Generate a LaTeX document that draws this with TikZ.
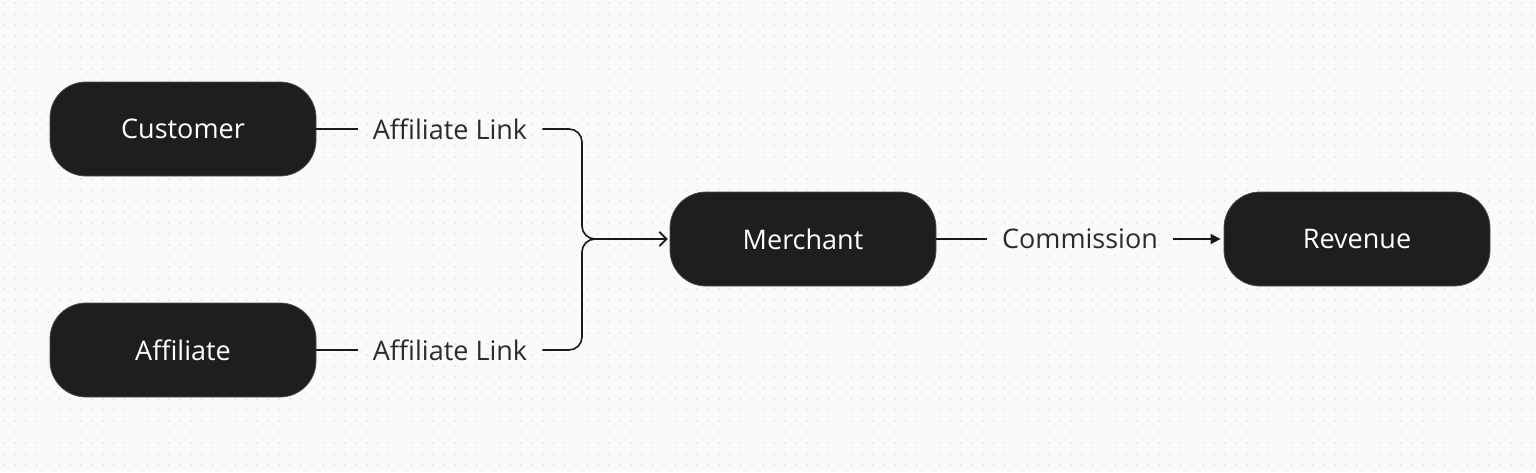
\documentclass[tikz,border=0pt]{standalone}
\usepackage{fontspec}
\setmainfont{Open Sans}
\usepackage{tikz}
\usetikzlibrary{arrows.meta,positioning}
\definecolor{boxfill}{HTML}{1E1E1E}
\definecolor{paper}{HTML}{FAFAFA}
\definecolor{dotgrey}{HTML}{D9D9D9}
\definecolor{ink}{HTML}{2B2B2B}
\tikzset{
    block/.style={
           rectangle, rounded corners=36pt,
           draw=black!70, fill=boxfill, line width=0.8pt,
           minimum height=94pt,
           minimum width=266pt,
           text=white,
           font=\fontsize{27}{32}\selectfont
           },
    tag/.style={
           inner xsep=15pt, inner ysep=4pt,
           text=ink,
           font=\fontsize{27}{32}\selectfont
           } ,
    link/.style={
           draw=black!90, line width=1.6pt
           }
}

\begin{document}
\begin{tikzpicture}[x=1pt, y=-1pt, node distance=5pt]
   \useasboundingbox[fill=paper] (0,0) rectangle (1536,472);
   % dot grid
   \foreach \i in {0,...,139}
     \foreach \j in {0,...,42}
       \fill[dotgrey] (4+11*\i, 3+11*\j) circle (0.8pt);

   \node[block] (cust)  at (183,129)  {Customer};
   \node[block] (aff)   at (183,350)  {Affiliate};
   \node[block] (merch) at (803,239)  {Merchant};
   \node[block] (rev)   at (1357,239) {Revenue};
   \node[tag]   (lnk1)  at (450,129)  {Affiliate Link};
   \node[tag]   (lnk2)  at (450,350)  {Affiliate Link};
   \node[tag]   (comm)  at (1080,239) {Commission};
   \coordinate  (jn)    at (582,239);

   \path[link]
    (cust.east) edge (lnk1.west)
    (aff.east)  edge (lnk2.west)
    (merch.east) edge (comm.west);
   \draw[link, rounded corners=13pt, -{Straight Barb[length=7pt,width=14pt,line width=1.6pt]}, shorten >=2pt]
    (lnk1.east) -| (jn) -- (merch.west);
   \draw[link, rounded corners=13pt, -{Straight Barb[length=7pt,width=14pt,line width=1.6pt]}, shorten >=2pt]
    (lnk2.east) -| (jn) -- (merch.west);
   \draw[link, -{Triangle[length=10pt,width=10pt]}, shorten >=3pt]
    (comm.east) -- (rev.west);
\end{tikzpicture}
\end{document}
